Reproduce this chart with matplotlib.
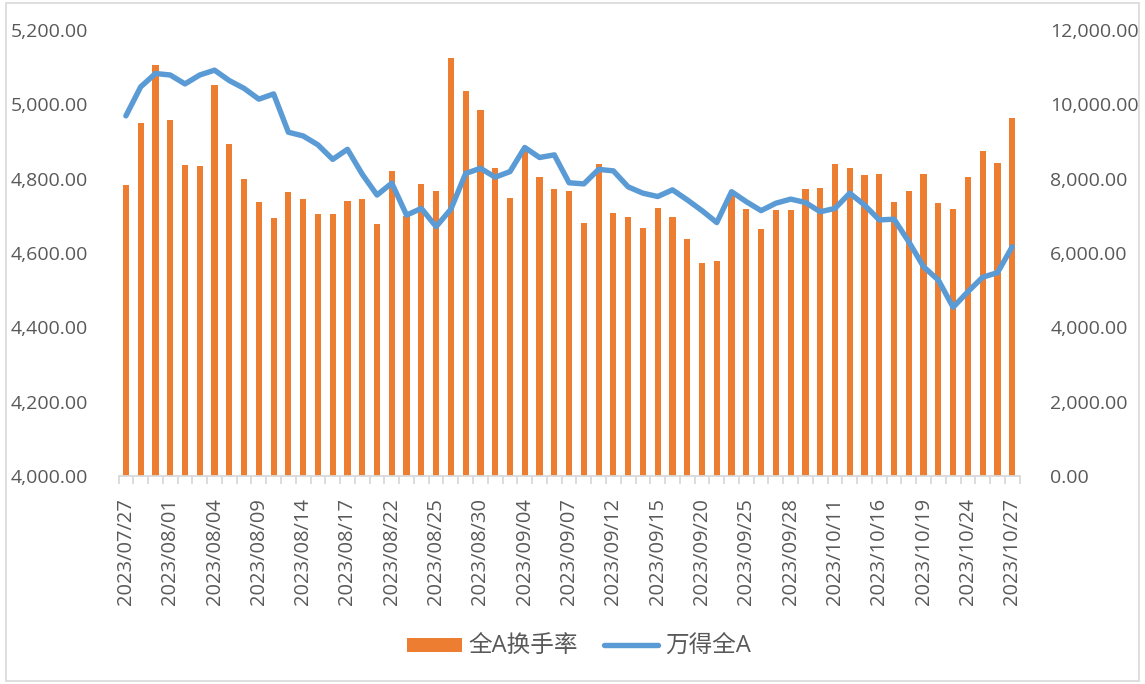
import matplotlib.pyplot as plt
from matplotlib.patches import Patch, Rectangle
from matplotlib.lines import Line2D
from matplotlib.ticker import FuncFormatter, FixedLocator

plt.rcParams['font.family'] = ['Open Sans', 'Noto Sans CJK SC', 'DejaVu Sans']

dates = ['2023/07/27', '2023/07/28', '2023/07/31', '2023/08/01', '2023/08/02', '2023/08/03',
         '2023/08/04', '2023/08/07', '2023/08/08', '2023/08/09', '2023/08/10', '2023/08/11',
         '2023/08/14', '2023/08/15', '2023/08/16', '2023/08/17', '2023/08/18', '2023/08/21',
         '2023/08/22', '2023/08/23', '2023/08/24', '2023/08/25', '2023/08/28', '2023/08/29',
         '2023/08/30', '2023/08/31', '2023/09/01', '2023/09/04', '2023/09/05', '2023/09/06',
         '2023/09/07', '2023/09/08', '2023/09/11', '2023/09/12', '2023/09/13', '2023/09/14',
         '2023/09/15', '2023/09/18', '2023/09/19', '2023/09/20', '2023/09/21', '2023/09/22',
         '2023/09/25', '2023/09/26', '2023/09/27', '2023/09/28', '2023/10/09', '2023/10/10',
         '2023/10/11', '2023/10/12', '2023/10/13', '2023/10/16', '2023/10/17', '2023/10/18',
         '2023/10/19', '2023/10/20', '2023/10/23', '2023/10/24', '2023/10/25', '2023/10/26',
         '2023/10/27']

# 全A换手率 (right axis)
turnover = [7820, 9510, 11070, 9580, 8370, 8340, 10510, 8930, 7980, 7360, 6950, 7640,
            7440, 7060, 7060, 7400, 7440, 6780, 8200, 7000, 7850, 7680, 11260, 10370,
            9850, 8300, 7470, 8750, 8050, 7710, 7680, 6820, 8400, 7090, 6980, 6670,
            7220, 6980, 6370, 5740, 5780, 7550, 7190, 6640, 7160, 7160, 7710, 7740,
            8400, 8300, 8090, 8130, 7360, 7680, 8130, 7340, 7190, 8050, 8740, 8430,
            9640]

# 万得全A (left axis)
index_a = [4969, 5047, 5083, 5079, 5055, 5079, 5092, 5064, 5043, 5014, 5028, 4925,
           4915, 4891, 4852, 4879, 4812, 4756, 4788, 4702, 4720, 4671, 4718, 4814,
           4828, 4804, 4819, 4884, 4857, 4864, 4789, 4786, 4825, 4821, 4778, 4761,
           4752, 4770, 4743, 4714, 4682, 4765, 4738, 4714, 4734, 4745, 4736, 4711,
           4720, 4761, 4729, 4689, 4691, 4630, 4563, 4527, 4454, 4496, 4535, 4547,
           4617]

orange = '#ED7D31'
blue = '#5B9BD5'
txt = '#595959'
fs = 14

fig = plt.figure(figsize=(11.45, 6.84), dpi=100)
ax = fig.add_axes([0.1035, 0.3041, 0.787, 0.652])
ax2 = ax.twinx()
x = list(range(len(dates)))

# bars on the base axes (right scale), line on the twin (left scale) so it draws on top
ax.bar(x, turnover, width=0.42, color=orange)
ax.set_ylim(0, 12000)
ax.set_yticks(range(0, 12001, 2000))

ax2.plot(x, index_a, color=blue, lw=3.9, solid_capstyle='round', solid_joinstyle='round')
ax2.set_ylim(4000, 5200)
ax2.set_yticks(range(4000, 5201, 200))

ax.yaxis.tick_right()
ax2.yaxis.tick_left()

fmt = FuncFormatter(lambda v, p: f'{v:,.2f}')
for a in (ax, ax2):
    a.yaxis.set_major_formatter(fmt)
    a.tick_params(axis='y', length=0, pad=22, labelsize=fs, labelcolor=txt)
    for s in ('top', 'left', 'right'):
        a.spines[s].set_visible(False)
    a.spines['bottom'].set_color('#D9D9D9')
    a.spines['bottom'].set_linewidth(1.3)

ax.set_xlim(-0.5, len(dates) - 0.5)
ax.set_xticks(x[::3])
ax.set_xticklabels(dates[::3], rotation=90)
ax.xaxis.set_minor_locator(FixedLocator([i - 0.5 for i in range(len(dates) + 1)]))
ax.tick_params(axis='x', which='major', length=0, pad=16, labelsize=fs + 0.5, labelcolor=txt)
ax.tick_params(axis='x', which='minor', length=6, width=1.3, color='#D9D9D9')
ax2.spines['bottom'].set_visible(False)

handles = [Patch(facecolor=orange, edgecolor='none'),
           Line2D([0], [0], color=blue, lw=3.9, solid_capstyle='round')]
fig.legend(handles, ['全A换手率', '万得全A'], loc='center', bbox_to_anchor=(0.506, 0.054),
           ncol=2, frameon=False, fontsize=17, labelcolor=txt, handlelength=2.3,
           handleheight=0.55, handletextpad=0.3, columnspacing=1.1)

fig.patches.append(Rectangle((0.005, 0.005), 0.99, 0.99, transform=fig.transFigure,
                             fill=False, edgecolor='#D9D9D9', lw=1.2))

fig.savefig('out.png', dpi=100)
